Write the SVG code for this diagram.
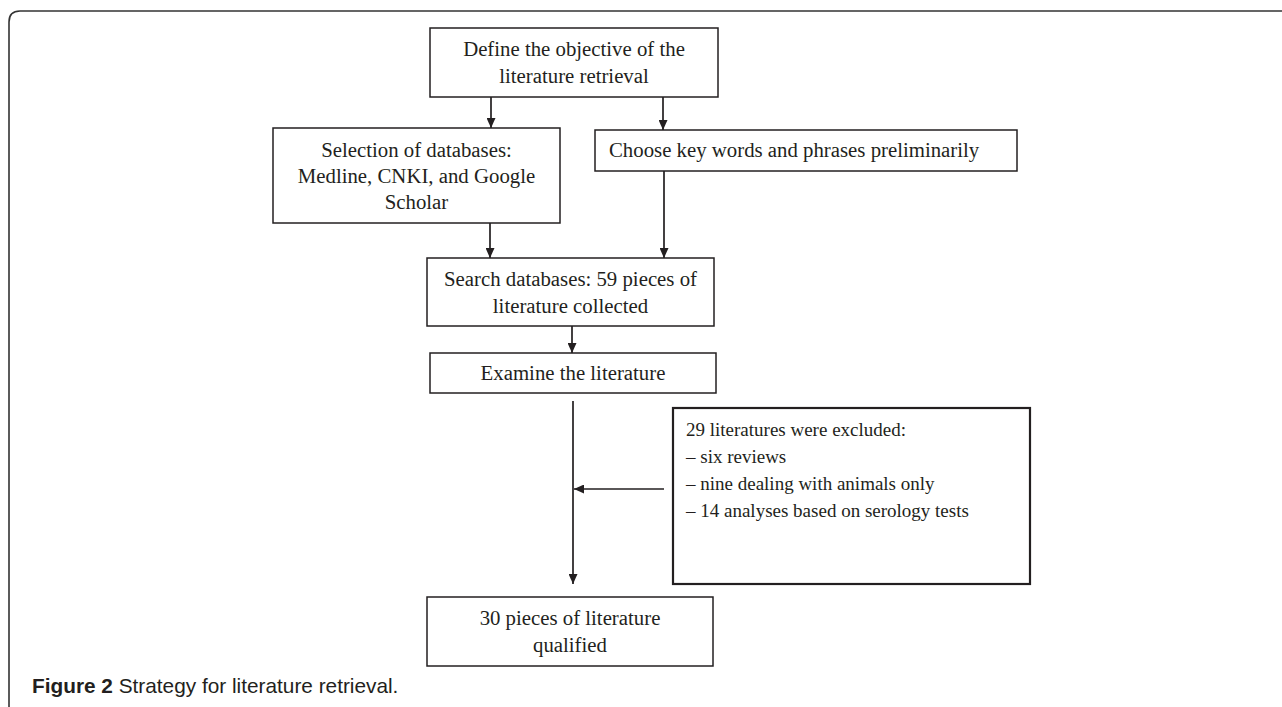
<svg xmlns="http://www.w3.org/2000/svg" width="1282" height="707" viewBox="0 0 1282 707">
<style>
.box{fill:#fff;stroke:#231f20;stroke-width:1.5}
.box2{fill:#fff;stroke:#231f20;stroke-width:2.2}
.t{font-family:"Liberation Serif","Times New Roman",serif;font-size:20.8px;fill:#231f20}
.tc{text-anchor:middle}
.ts{font-family:"Liberation Serif","Times New Roman",serif;font-size:19px;fill:#231f20}
.c{stroke:#231f20;stroke-width:1.7;fill:none}
.cap{font-family:"Liberation Sans",Arial,sans-serif;font-size:20.8px;fill:#231f20}
</style>
<defs>
<marker id="ah" viewBox="0 0 10 10" refX="10" refY="5" markerWidth="10" markerHeight="9" markerUnits="userSpaceOnUse" orient="auto" preserveAspectRatio="none">
<path d="M0,0 L10,5 L0,10 Z" fill="#231f20"/>
</marker>
</defs>
<rect width="1282" height="707" fill="#fff"/>
<path d="M9,707 L9,22 Q9,11 20,11 L1282,11" fill="none" stroke="#333" stroke-width="1.6"/>

<g id="connectors">
<line class="c" x1="491" y1="97" x2="491" y2="128" marker-end="url(#ah)"/>
<line class="c" x1="663" y1="97" x2="663" y2="130" marker-end="url(#ah)"/>
<line class="c" x1="490" y1="223" x2="490" y2="258" marker-end="url(#ah)"/>
<line class="c" x1="664" y1="171" x2="664" y2="258" marker-end="url(#ah)"/>
<line class="c" x1="572" y1="326" x2="572" y2="353" marker-end="url(#ah)"/>
<line class="c" x1="573" y1="401" x2="573" y2="584" marker-end="url(#ah)"/>
<line class="c" x1="664" y1="489" x2="574" y2="489" marker-end="url(#ah)"/>
</g>

<g id="define">
<rect class="box" x="430" y="28" width="288" height="69"/>
<text class="t tc" x="574" y="56">Define the objective of the</text>
<text class="t tc" x="574" y="83">literature retrieval</text>
</g>

<g id="selection">
<rect class="box" x="273" y="128" width="287" height="95"/>
<text class="t tc" x="416.5" y="157">Selection of databases:</text>
<text class="t tc" x="416.5" y="183">Medline, CNKI, and Google</text>
<text class="t tc" x="416.5" y="209">Scholar</text>
</g>

<g id="choose">
<rect class="box" x="595" y="130" width="422" height="41"/>
<text class="t" x="609" y="157">Choose key words and phrases preliminarily</text>
</g>

<g id="search">
<rect class="box" x="427" y="258" width="287" height="68"/>
<text class="t tc" x="570.5" y="286">Search databases: 59 pieces of</text>
<text class="t tc" x="570.5" y="313">literature collected</text>
</g>

<g id="examine">
<rect class="box" x="430" y="353" width="286" height="40"/>
<text class="t tc" x="573" y="380">Examine the literature</text>
</g>

<g id="excluded">
<rect class="box2" x="673" y="408" width="357" height="176"/>
<text class="ts" x="686" y="436">29 literatures were excluded:</text>
<text class="ts" x="686" y="463">– six reviews</text>
<text class="ts" x="686" y="490">– nine dealing with animals only</text>
<text class="ts" x="686" y="517">– 14 analyses based on serology tests</text>
</g>

<g id="qualified">
<rect class="box" x="427" y="597" width="286" height="69"/>
<text class="t tc" x="570" y="625">30 pieces of literature</text>
<text class="t tc" x="570" y="652">qualified</text>
</g>

<text class="cap" x="32" y="693"><tspan font-weight="bold">Figure 2</tspan> Strategy for literature retrieval.</text>
</svg>
